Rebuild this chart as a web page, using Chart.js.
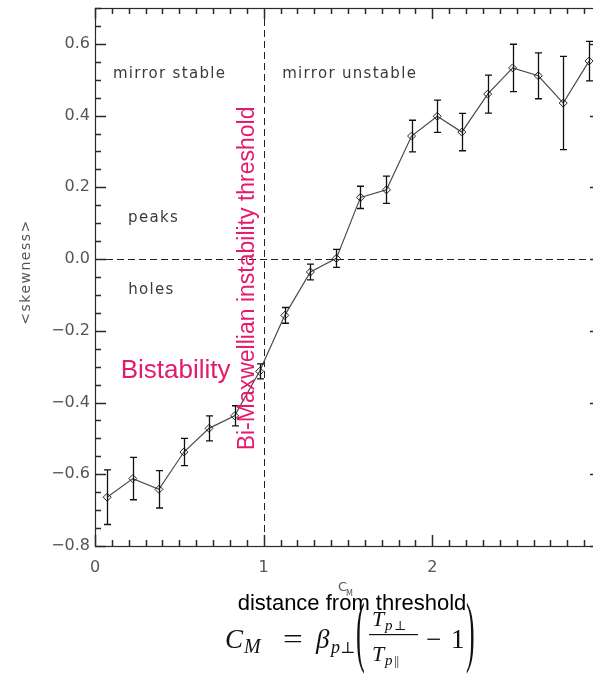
<!DOCTYPE html>
<html>
<head>
<meta charset="utf-8">
<script src="https://cdn.jsdelivr.net/npm/chart.js@4.4.1/dist/chart.umd.min.js"></script>
<style>
  html, body { margin: 0; padding: 0; background: #fff; overflow: hidden; }
  canvas { display: block; }
</style>
</head>
<body>
<canvas id="chart" width="612" height="697"></canvas>
<script>
// mean skewness in bins of C_M, with error of the mean
const cmValues   = [0.072, 0.224, 0.379, 0.527, 0.676, 0.828, 0.976, 1.125, 1.277, 1.431,
                    1.574, 1.728, 1.877, 2.029, 2.175, 2.328, 2.476, 2.628, 2.776, 2.929];
const skewMeans  = [-0.664, -0.612, -0.642, -0.538, -0.472, -0.437, -0.313, -0.157, -0.036, 0.002,
                    0.172, 0.193, 0.343, 0.398, 0.354, 0.460, 0.533, 0.511, 0.435, 0.552];
const skewErrors = [0.076, 0.059, 0.052, 0.038, 0.035, 0.028, 0.021, 0.022, 0.022, 0.025,
                    0.031, 0.038, 0.044, 0.045, 0.052, 0.053, 0.066, 0.064, 0.130, 0.055];

const xTickValues = [0, 1, 2];
const xTickLabels = ['0', '1', '2'];
const yTickValues = [-0.8, -0.6, -0.4, -0.2, 0.0, 0.2, 0.4, 0.6];
const yTickLabels = ['\u22120.8', '\u22120.6', '\u22120.4', '\u22120.2', '0.0', '0.2', '0.4', '0.6'];

const PINK = '#e31b6d';
const IDL_FONT = '"DejaVu Sans", sans-serif';

function spacedText(ctx, text, x, y, font, color, spacing, align) {
  ctx.save();
  ctx.font = font;
  ctx.fillStyle = color;
  ctx.letterSpacing = spacing + 'px';
  ctx.textAlign = align || 'center';
  ctx.textBaseline = 'middle';
  ctx.fillText(text, x, y);
  ctx.restore();
}

// dashed threshold lines, error bars, IDL style frame and the text around the plot
const decorations = {
  id: 'decorations',
  beforeDatasetsDraw(chart) {
    const { ctx, chartArea: a, scales: { x, y } } = chart;
    ctx.save();
    ctx.strokeStyle = '#222';
    ctx.lineWidth = 1;
    ctx.setLineDash([7, 4]);
    const x1 = Math.round(x.getPixelForValue(1)) + 0.5;
    const y0 = Math.round(y.getPixelForValue(0)) + 0.5;
    ctx.beginPath();
    ctx.moveTo(x1, a.top); ctx.lineTo(x1, a.bottom);
    ctx.moveTo(a.left, y0); ctx.lineTo(a.right, y0);
    ctx.stroke();
    ctx.restore();
  },
  afterDatasetsDraw(chart) {
    const { ctx, scales: { x, y } } = chart;
    ctx.save();
    ctx.strokeStyle = '#111';
    ctx.lineWidth = 1.3;
    cmValues.forEach((c, i) => {
      const px = Math.round(x.getPixelForValue(c)) + 0.5;
      const top = y.getPixelForValue(skewMeans[i] + skewErrors[i]);
      const bot = y.getPixelForValue(skewMeans[i] - skewErrors[i]);
      ctx.beginPath();
      ctx.moveTo(px, top); ctx.lineTo(px, bot);
      ctx.moveTo(px - 3.5, top); ctx.lineTo(px + 3.5, top);
      ctx.moveTo(px - 3.5, bot); ctx.lineTo(px + 3.5, bot);
      ctx.stroke();
    });
    ctx.restore();
  },
  afterDraw(chart) {
    const { ctx, chartArea: a, scales: { x, y } } = chart;
    const left = Math.round(a.left), right = Math.round(a.right);
    const top = Math.round(a.top), bottom = Math.round(a.bottom);
    ctx.save();
    ctx.strokeStyle = '#2a2a2a';
    ctx.lineWidth = 1.2;
    ctx.strokeRect(left + 0.5, top + 0.5, right - left, bottom - top);

    // inward ticks on all four sides
    ctx.lineWidth = 1.5;
    ctx.beginPath();
    for (let k = 0; k <= 30; k++) {
      const px = Math.round(x.getPixelForValue(k / 10)) + 0.5;
      const len = k % 10 === 0 ? 11 : 6;
      ctx.moveTo(px, bottom); ctx.lineTo(px, bottom - len);
      ctx.moveTo(px, top); ctx.lineTo(px, top + len);
    }
    for (let k = -16; k <= 14; k++) {
      const py = Math.round(y.getPixelForValue(k / 20)) + 0.5;
      const len = k % 4 === 0 ? 11 : 6;
      ctx.moveTo(left, py); ctx.lineTo(left + len, py);
      ctx.moveTo(right, py); ctx.lineTo(right - len, py);
    }
    ctx.stroke();
    ctx.restore();

    // region labels
    const lab = '15px ' + IDL_FONT;
    spacedText(ctx, 'mirror stable', x.getPixelForValue(0.442), y.getPixelForValue(0.515), lab, '#3a3a3a', 1.3);
    spacedText(ctx, 'mirror unstable', x.getPixelForValue(1.51), y.getPixelForValue(0.515), lab, '#3a3a3a', 1.3);
    spacedText(ctx, 'peaks', x.getPixelForValue(0.347), y.getPixelForValue(0.114), lab, '#3a3a3a', 1.3);
    spacedText(ctx, 'holes', x.getPixelForValue(0.335), y.getPixelForValue(-0.086), lab, '#3a3a3a', 1.3);

    spacedText(ctx, 'Bistability', x.getPixelForValue(0.478), y.getPixelForValue(-0.311),
               '26px "Liberation Sans", Arial, sans-serif', PINK, 0);
    ctx.save();
    ctx.translate(x.getPixelForValue(0.905), y.getPixelForValue(-0.054));
    ctx.rotate(-Math.PI / 2);
    spacedText(ctx, 'Bi-Maxwellian instability threshold', 0, 0,
               '23px "Liberation Sans", Arial, sans-serif', PINK, 0);
    ctx.restore();

    // axis titles
    ctx.save();
    ctx.translate(26, 272);
    ctx.rotate(-Math.PI / 2);
    spacedText(ctx, '<skewness>', 0, 0, '14px ' + IDL_FONT, '#555', 1.5);
    ctx.restore();
    spacedText(ctx, 'C', 342.5, 588, '13px ' + IDL_FONT, '#555', 0);
    spacedText(ctx, 'M', 349.5, 593.5, '8px ' + IDL_FONT, '#555', 0);

    spacedText(ctx, 'distance from threshold', 352, 604,
               '22px "Liberation Sans", Arial, sans-serif', '#000', 0);

    // C_M = beta_p_perp (T_p_perp / T_p_par - 1)
    ctx.save();
    ctx.fillStyle = '#111';
    ctx.textBaseline = 'alphabetic';
    ctx.textAlign = 'left';
    const serif = '"Liberation Serif", "DejaVu Serif", serif';
    const put = (t, px, py, size, italic) => {
      ctx.font = (italic ? 'italic ' : '') + size + 'px ' + serif;
      ctx.fillText(t, px, py);
    };
    const base = 648;
    put('C', 225, base, 27, true);
    put('M', 244, base + 5, 20, true);
    ctx.save();
    ctx.translate(283, base);
    ctx.scale(1.3, 1);
    put('=', 0, 0, 27, false);
    ctx.restore();
    put('\u03b2', 316, base, 27, true);
    put('p', 331, base + 5, 18, true);
    put('\u22a5', 340, base + 5, 16, false);
    ctx.save();
    ctx.translate(356, 657);
    ctx.scale(1, 3.0);
    put('(', 0, 0, 26, false);
    ctx.restore();
    put('T', 372, 626, 22, true);
    put('p', 385, 630, 15, true);
    put('\u22a5', 394, 630, 13, false);
    ctx.fillRect(369, 634, 49, 1.2);
    put('T', 372, 661, 22, true);
    put('p', 385, 665, 15, true);
    put('||', 394, 665, 13, false);
    put('\u2212', 426, base, 27, false);
    put('1', 451, base, 27, false);
    ctx.save();
    ctx.translate(466, 657);
    ctx.scale(1, 3.0);
    put(')', 0, 0, 26, false);
    ctx.restore();
    ctx.restore();
  }
};

new Chart(document.getElementById('chart'), {
  type: 'line',
  data: {
    datasets: [{
      data: cmValues.map((c, i) => ({ x: c, y: skewMeans[i] })),
      borderColor: '#4a4a4a',
      borderWidth: 1.2,
      tension: 0,
      pointStyle: 'rectRot',
      pointRadius: 4,
      pointBorderWidth: 1,
      pointBorderColor: '#222',
      pointBackgroundColor: 'rgba(0,0,0,0)'
    }]
  },
  options: {
    responsive: false,
    animation: false,
    layout: { padding: { top: 8, right: 11, left: 0, bottom: 0 } },
    plugins: { legend: { display: false }, tooltip: { enabled: false } },
    scales: {
      x: {
        type: 'linear',
        min: 0,
        max: 3,
        grid: { display: false, drawTicks: false },
        border: { display: false },
        afterBuildTicks: s => { s.ticks = xTickValues.map(v => ({ value: v })); },
        afterFit: s => { s.height = 151; s.paddingLeft = 0; s.paddingRight = 0; },
        ticks: {
          padding: 12,
          color: '#555',
          font: { family: 'DejaVu Sans', size: 16 },
          callback: v => xTickLabels[xTickValues.indexOf(v)]
        }
      },
      y: {
        type: 'linear',
        min: -0.8,
        max: 0.7,
        grid: { display: false, drawTicks: false },
        border: { display: false },
        afterBuildTicks: s => { s.ticks = yTickValues.map(v => ({ value: v })); },
        afterFit: s => { s.width = 95; s.paddingTop = 0; s.paddingBottom = 0; },
        ticks: {
          padding: 5,
          color: '#555',
          font: { family: 'DejaVu Sans', size: 16 },
          callback: v => yTickLabels[yTickValues.findIndex(t => Math.abs(t - v) < 1e-9)]
        }
      }
    }
  },
  plugins: [decorations]
});
</script>
</body>
</html>
